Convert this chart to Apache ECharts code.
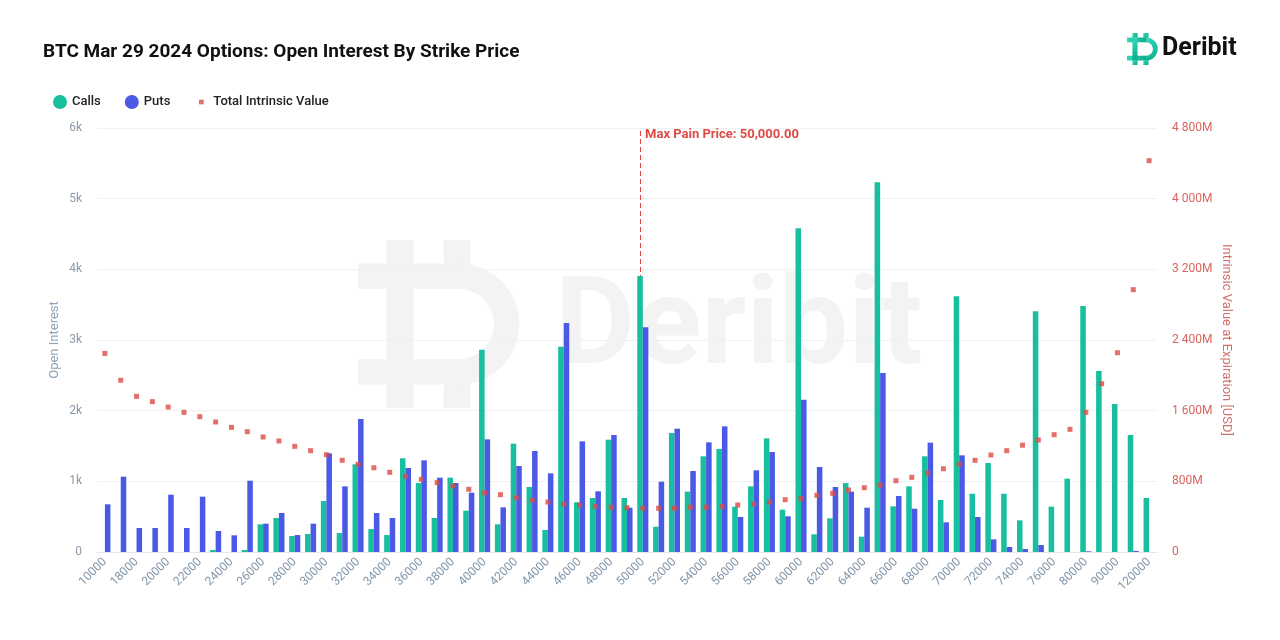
<!DOCTYPE html>
<html>
<head>
<meta charset="utf-8">
<script src="https://cdn.jsdelivr.net/npm/echarts@6/dist/echarts.min.js"></script>
<style>
  html, body { margin: 0; padding: 0; background: #ffffff; }
  #chart { width: 1280px; height: 640px; }
</style>
</head>
<body>
<div id="chart"></div>
<script>
const strikes = ['10000','15000','18000','19000','20000','21000','22000','23000','24000','25000',
  '26000','27000','28000','29000','30000','31000','32000','33000','34000','35000',
  '36000','37000','38000','39000','40000','41000','42000','43000','44000','45000',
  '46000','47000','48000','49000','50000','51000','52000','53000','54000','55000',
  '56000','57000','58000','59000','60000','61000','62000','63000','64000','65000',
  '66000','67000','68000','69000','70000','71000','72000','73000','74000','75000',
  '76000','78000','80000','85000','90000','100000','120000'];

const calls = [0,0,0,0,0,0,0,28,0,28,
  392,481,226,255,722,269,1241,325,240,1326,
  976,481,1052,585,2863,392,1533,920,311,2905,
  703,764,1589,764,3905,358,1684,854,1354,1458,
  641,929,1608,599,4580,250,476,976,217,5231,
  646,929,1354,736,3618,825,1259,825,448,3406,
  641,1038,3481,2561,2094,1656,764];

const puts = [675,1066,340,340,811,340,783,297,236,1009,
  401,552,240,401,1396,929,1882,552,481,1189,
  1297,1052,976,840,1594,632,1217,1429,1113,3240,
  1566,859,1656,627,3180,995,1745,1146,1552,1778,
  495,1156,1415,505,2153,1203,920,854,627,2533,
  792,613,1547,420,1368,495,179,71,42,99,
  0,0,10,0,0,15,0];

// Total intrinsic value at expiration, millions USD
const intrinsic = [2248,1944,1762,1702,1641,1581,1532,1472,1411,1362,
  1302,1257,1196,1147,1101,1038,993,954,902,857,
  823,785,747,710,671,649,615,585,566,543,
  532,517,506,502,495,495,495,506,506,517,
  532,543,566,592,604,642,664,702,728,758,
  807,845,894,943,993,1038,1098,1147,1209,1268,
  1328,1389,1581,1905,2256,2970,4430];

const maxPainStrike = '50000';
const maxPainLabel = 'Max Pain Price: 50,000.00';
const leftTicks = { min: 0, max: 6000, interval: 1000 };
const rightTicks = { min: 0, max: 4800, interval: 800 };

const TEAL = '#17bf9f';
const BLUE = '#4b5ae4';
const RED = '#dd4b45';
const FONT = 'Roboto, "Noto Sans", sans-serif';

function logoElements(x, y, s, fill, z) {
  // Deribit-style "D" mark in a 100x100 unit box
  const k = s / 100;
  const r = (rx, ry, w, h) => ({ type: 'rect', shape: { x: x + rx * k, y: y + ry * k, width: w * k, height: h * k }, style: { fill: fill }, silent: true, z: z });
  const els = [
    r(17, 0, 16, 15), r(51, 0, 16, 15),
    r(0, 14, 61, 15), r(0, 71, 61, 15),
    r(17, 14, 16, 72),
    r(17, 85, 16, 15), r(51, 85, 16, 15)
  ];
  els.push({
    type: 'sector', silent: true, z: z,
    shape: { cx: x + 60 * k, cy: y + 50 * k, r: 36 * k, r0: 21 * k, startAngle: -Math.PI / 2, endAngle: Math.PI / 2, clockwise: true },
    style: { fill: fill }
  });
  return els;
}

const chart = echarts.init(document.getElementById('chart'), null, { renderer: 'canvas' });

const tealGrad = new echarts.graphic.LinearGradient(0, 0, 1, 1, [
  { offset: 0, color: '#2fdcb8' }, { offset: 1, color: '#0ea88c' }
]);

const graphics = []
  .concat(logoElements(358, 240, 168, '#f3f3f3', -10))
  .concat([{
    type: 'text', silent: true, z: -10,
    style: { x: 555, y: 332, text: 'Deribit', font: 'bold 123px ' + FONT, fill: '#f3f3f3', verticalAlign: 'middle' }
  }])
  .concat(logoElements(1127, 33, 32, tealGrad, 10))
  .concat([{
    type: 'text', z: 10,
    style: { x: 1162, y: 49, text: 'Deribit', font: 'bold 25px ' + FONT, fill: '#111111', verticalAlign: 'middle' }
  }]);

const fmtRight = v => v === 0 ? '0' : String(v).replace(/\B(?=(\d{3})+(?!\d))/g, ' ') + 'M';

chart.setOption({
  animation: false,
  backgroundColor: '#ffffff',
  textStyle: { fontFamily: FONT },
  title: {
    text: 'BTC Mar 29 2024 Options: Open Interest By Strike Price',
    left: 38, top: 38,
    textStyle: { fontSize: 19, fontWeight: 'bold', color: '#111111', fontFamily: FONT }
  },
  graphic: graphics,
  legend: {
    left: 48, top: 90,
    itemWidth: 14, itemHeight: 14, itemGap: 24,
    textStyle: { fontSize: 13, fontWeight: 500, color: '#222222', fontFamily: FONT },
    data: [
      { name: 'Calls', icon: 'circle' },
      { name: 'Puts', icon: 'circle' },
      { name: 'Total Intrinsic Value', icon: 'path://M0,0 L0,0 M5,5 L10,5 L10,10 L5,10 Z M15,15 L15,15' }
    ]
  },
  grid: { left: 97, right: 123, top: 128, bottom: 88, containLabel: false },
  xAxis: {
    type: 'category',
    data: strikes,
    axisLine: { lineStyle: { color: '#e3e6ea' } },
    axisTick: { show: false },
    axisLabel: { interval: 1, rotate: 45, fontSize: 12, color: '#8196aa', margin: 8, fontFamily: FONT }
  },
  yAxis: [
    {
      type: 'value', min: leftTicks.min, max: leftTicks.max, interval: leftTicks.interval,
      name: 'Open Interest', nameLocation: 'middle', nameGap: 36, nameMoveOverlap: false,
      nameTextStyle: { fontSize: 13, color: '#8ea3b6', fontFamily: FONT },
      axisLine: { show: false }, axisTick: { show: false },
      axisLabel: { fontSize: 12, color: '#8b9aab', margin: 15, formatter: v => v === 0 ? '0' : (v / 1000) + 'k' },
      splitLine: { lineStyle: { color: '#f0f1f3' } }
    },
    {
      type: 'value', min: rightTicks.min, max: rightTicks.max, interval: rightTicks.interval,
      position: 'right',
      name: 'Intrinsic Value at Expiration [USD]', nameLocation: 'middle', nameGap: 63, nameRotate: -90, nameMoveOverlap: false,
      nameTextStyle: { fontSize: 13, color: '#d0716a', fontFamily: FONT },
      axisLine: { show: false }, axisTick: { show: false },
      axisLabel: { fontSize: 12, color: '#d8655d', margin: 15, formatter: fmtRight },
      splitLine: { show: false }
    }
  ],
  series: [
    {
      name: 'Calls', type: 'bar', data: calls, yAxisIndex: 0,
      barWidth: '35%', barGap: '0%',
      itemStyle: { color: TEAL },
      markLine: {
        silent: true, symbol: 'none', z: 1,
        lineStyle: { type: [5, 3], color: RED, width: 1 },
        label: {
          show: true, formatter: maxPainLabel, position: 'end', distance: -7,
          align: 'left', verticalAlign: 'middle', padding: [0, 0, 0, 5],
          color: RED, fontSize: 13, fontWeight: 'bold', fontFamily: FONT
        },
        data: [{ xAxis: maxPainStrike }]
      }
    },
    {
      name: 'Puts', type: 'bar', data: puts, yAxisIndex: 0,
      barWidth: '35%', barGap: '0%',
      itemStyle: { color: BLUE }
    },
    {
      name: 'Total Intrinsic Value', type: 'scatter', data: intrinsic, yAxisIndex: 1,
      symbol: 'rect', symbolSize: 5, z: 5,
      itemStyle: { color: RED }
    }
  ]
});
</script>
</body>
</html>
